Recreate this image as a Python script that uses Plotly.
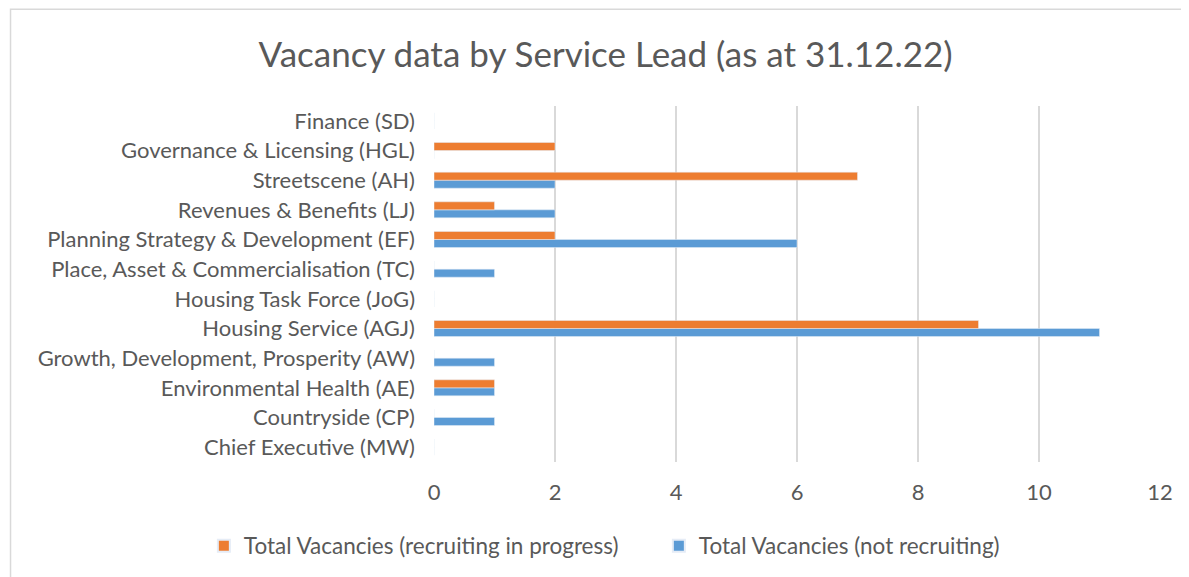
import plotly.graph_objects as go

categories = [
    "Chief Executive (MW)",
    "Countryside (CP)",
    "Environmental Health (AE)",
    "Growth, Development, Prosperity (AW)",
    "Housing Service (AGJ)",
    "Housing Task Force (JoG)",
    "Place, Asset & Commercialisation (TC)",
    "Planning Strategy & Development (EF)",
    "Revenues & Benefits (LJ)",
    "Streetscene (AH)",
    "Governance & Licensing (HGL)",
    "Finance (SD)",
]
not_recruiting = [0, 1, 1, 1, 11, 0, 1, 6, 2, 2, 0, 0]
recruiting = [0, 0, 1, 0, 9, 0, 0, 2, 1, 7, 2, 0]
x_ticks = [0, 2, 4, 6, 8, 10, 12]

FONT = "Lato"
TXT = "#595959"

fig = go.Figure()
fig.add_trace(go.Bar(
    y=categories, x=not_recruiting, orientation="h",
    name="Total Vacancies (not recruiting)", marker_color="#5B9BD5",
    legendrank=2,
))
fig.add_trace(go.Bar(
    y=categories, x=recruiting, orientation="h",
    name="Total Vacancies (recruiting in progress)", marker_color="#ED7D31",
    legendrank=1,
))

fig.update_layout(
    width=1181, height=569,
    margin=dict(l=426, r=29, t=98, b=115, autoexpand=False),
    paper_bgcolor="white", plot_bgcolor="white",
    barmode="group", bargap=0.46, bargroupgap=0,
    font=dict(family=FONT, color=TXT, size=22),
    title=dict(
        text="Vacancy data by Service Lead (as at 31.12.22)",
        x=0.506, xanchor="center", y=0.917, yanchor="middle",
        font=dict(family=FONT, size=35, color=TXT),
    ),
    xaxis=dict(
        range=[0, 12], tickvals=x_ticks, showgrid=True, gridcolor="#D9D9D9",
        gridwidth=1.5, zeroline=False, showline=False, ticks="",
        tickfont=dict(size=22, color=TXT), ticklabelstandoff=15,
    ),
    yaxis=dict(
        categoryorder="array", categoryarray=categories,
        showgrid=False, zeroline=False, showline=False, ticks="",
        tickfont=dict(size=22, color=TXT), ticklabelstandoff=18,
    ),
    legend=dict(
        orientation="h", x=-0.317, xanchor="left",
        y=-0.236, yanchor="middle",
        font=dict(size=22.5, color=TXT), itemsizing="constant",
        traceorder="normal", itemwidth=30, entrywidth=410,
    ),
    shapes=[dict(
        type="rect", xref="paper", yref="paper",
        x0=-0.5833, x1=2.0, y0=-2.0, y1=1.272,
        line=dict(color="#D9D9D9", width=1.5), fillcolor="rgba(0,0,0,0)",
        layer="below",
    )],
)

fig.write_html("out.html")
